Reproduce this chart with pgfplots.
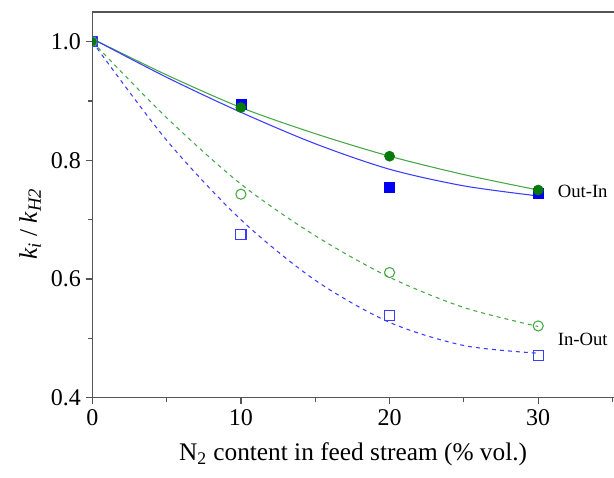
\documentclass[border=0pt]{standalone}
\usepackage{fontspec}
\setmainfont{Liberation Serif}
\usepackage{pgfplots}
\pgfplotsset{compat=1.18}
\usetikzlibrary{calc}
\definecolor{gDark}{HTML}{087A08}
\definecolor{gLine}{HTML}{46A846}
\definecolor{bMark}{HTML}{0000F5}
\definecolor{bLine}{HTML}{3C3CFF}
\definecolor{axGrey}{HTML}{555555}
\newcommand{\sub}[1]{\raisebox{-0.35ex}{\fontsize{14}{16}\selectfont\textit{#1}}}

\begin{document}
\begin{tikzpicture}
\begin{axis}[
  name=ax, scale only axis,
  width=391.3pt, height=289.3pt,
  xmin=0, xmax=35.1, ymin=0.4, ymax=1.05,
  axis x line=bottom, axis y line=left,
  axis line style={axGrey, line width=0.9pt, -},
  xtick={0,10,20,30}, minor xtick={5,15,25,35},
  ytick={0.4,0.6,0.8,1.0}, minor ytick={0.5,0.7,0.9},
  tick align=outside, tick style={axGrey, line width=0.9pt},
  major tick length=5pt, minor tick length=3.5pt,
  yticklabel style={/pgf/number format/.cd, fixed, fixed zerofill, precision=1},
  /pgf/number format/assume math mode=true,
  tick label style={font=\fontsize{18}{20}\selectfont},
  xlabel={N\textsubscript{2} content in feed stream (\% vol.)},
  label style={font=\fontsize{19}{22}\selectfont},
  xlabel style={yshift=-6pt},
  clip mode=individual, clip marker paths=true,
  mark size=3.8pt,
]
% fitted curves
\addplot[gLine, line width=0.8pt, smooth, no marks] coordinates
  {(0,1.005) (5,0.944) (10,0.889) (15,0.845) (20,0.807) (25,0.776) (30,0.750)};
\addplot[bLine, line width=0.8pt, smooth, no marks] coordinates
  {(0,1.005) (5,0.940) (10,0.881) (15,0.828) (20,0.785) (25,0.757) (30,0.740)};
\addplot[gLine, line width=0.8pt, dashed, smooth, no marks] coordinates
  {(0,1.0) (5,0.872) (10,0.760) (15,0.673) (20,0.603) (25,0.552) (30,0.520)};
\addplot[bLine, line width=0.8pt, dashed, smooth, no marks] coordinates
  {(0,1.0) (5,0.834) (10,0.700) (15,0.598) (20,0.527) (25,0.488) (30,0.475)};
% data points
\addplot[only marks, mark=square*, bMark] coordinates
  {(0,1.0) (10,0.895) (20,0.755) (30,0.744)};
\addplot[only marks, mark=*, gDark] coordinates
  {(0,1.0) (10,0.889) (20,0.807) (30,0.750)};
\addplot[only marks, mark=o, gLine, mark options={draw=gLine, solid, line width=0.8pt}] coordinates
  {(0,1.0) (10,0.743) (20,0.611) (30,0.521)};
\addplot[only marks, mark=square, bLine, mark options={draw=bLine, solid, line width=0.8pt}] coordinates
  {(0,1.0) (10,0.675) (20,0.538) (30,0.471)};
\node[anchor=west, font=\fontsize{14}{16}\selectfont, inner sep=0pt] at (axis cs:31.3,0.747) {Out-In};
\node[anchor=west, font=\fontsize{14}{16}\selectfont, inner sep=0pt] at (axis cs:31.3,0.498) {In-Out};
\end{axis}
\draw[axGrey, line width=0.9pt] (ax.north west) -- (ax.north east);
\node[rotate=90, font=\fontsize{19}{22}\selectfont]
  at ($(ax.south west)!0.45!(ax.north west)+(-46.7pt,0)$)
  {\textit{k}\sub{i} / \textit{k}\sub{H2}};
\pgfresetboundingbox
\path ($(ax.south west)+(-69.2pt,-59.5pt)$) rectangle ($(ax.north east)+(0,9pt)$);
\end{tikzpicture}
\end{document}
